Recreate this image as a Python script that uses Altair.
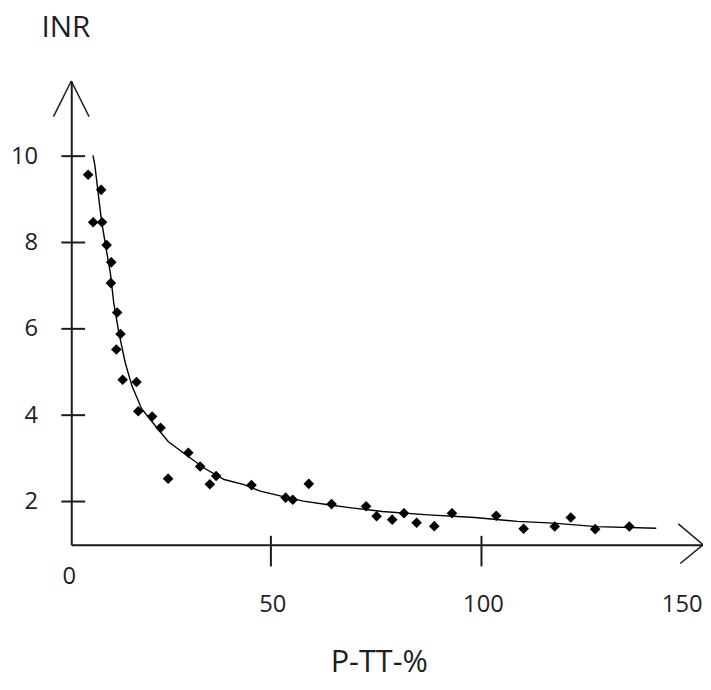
import altair as alt
import pandas as pd

# scatter data (P-TT-% vs INR)
x_pts = [6.6, 9.7, 7.8, 9.9, 11.0, 12.1, 12.0, 13.5, 14.3, 13.3, 14.8, 18.1, 18.5, 21.8,
         23.8, 25.6, 30.4, 33.2, 37.0, 35.5, 45.4, 59.0, 53.5, 55.2, 64.4, 72.6, 75.1,
         78.8, 81.6, 84.6, 88.8, 93.0, 103.5, 110.0, 117.4, 121.2, 127.0, 135.1]
y_pts = [9.57, 9.22, 8.47, 8.47, 7.94, 7.54, 7.06, 6.38, 5.88, 5.52, 4.82, 4.77, 4.09, 3.97,
         3.71, 2.53, 3.13, 2.81, 2.59, 2.40, 2.38, 2.41, 2.09, 2.04, 1.94, 1.89, 1.66,
         1.58, 1.73, 1.51, 1.43, 1.73, 1.67, 1.37, 1.42, 1.63, 1.36, 1.42]

# fitted curve
x_fit = [7.75, 8.2, 9.15, 9.8, 10.7, 11.9, 12.7, 13.9, 15.4, 17.0, 19.3, 22.5, 25.6, 30.3,
         34.2, 38.9, 43.6, 47.5, 52.2, 57.7, 63.2, 68.6, 76.5, 87.4, 98.4, 108.5, 117.1,
         127.3, 141.5]
y_fit = [10.02, 9.79, 9.01, 8.49, 7.96, 7.28, 6.59, 5.91, 5.22, 4.68, 4.15, 3.76, 3.39, 3.05,
         2.77, 2.51, 2.39, 2.24, 2.13, 2.01, 1.93, 1.86, 1.77, 1.69, 1.63, 1.54, 1.50,
         1.42, 1.38]

y_ticks = [2, 4, 6, 8, 10]
x_ticks = [50, 100]
x_labels_mid = ["50", "100"]
x_label_end = ["150"]
origin_label = ["0"]

W, H = 639, 469
FONT = "Open Sans"
INK = "#1a1a1a"
TXT = "#1e1e1e"
LABEL_SIZE = 24
TITLE_SIZE = 30

xscale = alt.Scale(domain=[2.6, 152.6], nice=False, zero=False)
yscale = alt.Scale(domain=[1.0, 11.74], nice=False, zero=False)

df_pts = pd.DataFrame({"x": x_pts, "y": y_pts})
df_fit = pd.DataFrame({"x": x_fit, "y": y_fit})

x_axis = alt.Axis(
    values=x_ticks, ticks=False, grid=False, labels=False,
    domainColor=INK, domainWidth=2,
    title="P-TT-%", titleFont=FONT, titleFontSize=TITLE_SIZE + 1, titleFontWeight="normal",
    titleColor=TXT, titleX=311, titleY=119, titleBaseline="middle", titleAlign="center",
)
y_axis = alt.Axis(
    values=y_ticks, ticks=False, grid=False,
    domainColor=INK, domainWidth=2,
    labelFont=FONT, labelFontSize=LABEL_SIZE, labelColor=TXT, labelPadding=34,
    title="INR", titleFont=FONT, titleFontSize=TITLE_SIZE, titleFontWeight="normal",
    titleColor=TXT, titleAngle=0, titleX=-6, titleY=-54, titleAlign="center",
    titleBaseline="middle",
)

points = alt.Chart(df_pts).mark_point(
    shape="diamond", filled=True, size=115, color="black", opacity=1
).encode(
    x=alt.X("x:Q", scale=xscale, axis=x_axis),
    y=alt.Y("y:Q", scale=yscale, axis=y_axis),
)

curve = alt.Chart(df_fit).mark_line(color="black", strokeWidth=1.4).encode(
    x=alt.X("x:Q", scale=xscale, axis=x_axis),
    y=alt.Y("y:Q", scale=yscale, axis=y_axis),
    order="x:Q",
)

ytick_rules = alt.Chart(pd.DataFrame({"v": y_ticks})).mark_rule(
    color=INK, strokeWidth=2
).encode(
    y=alt.Y("v:Q", scale=yscale, axis=y_axis),
    x=alt.value(-10), x2=alt.value(14),
)

xtick_rules = alt.Chart(pd.DataFrame({"v": x_ticks})).mark_rule(
    color=INK, strokeWidth=2
).encode(
    x=alt.X("v:Q", scale=xscale, axis=x_axis),
    y=alt.value(H - 9), y2=alt.value(H + 22),
)

text_style = dict(font=FONT, fontSize=LABEL_SIZE, color=TXT, baseline="middle", align="center")

zero_text = alt.Chart(pd.DataFrame({"t": origin_label, "v": [0]})).mark_text(
    dx=9, **text_style
).encode(
    x=alt.X("v:Q", scale=xscale, axis=x_axis),
    y=alt.value(H + 33),
    text="t:N",
)

mid_text = alt.Chart(pd.DataFrame({"t": x_labels_mid, "v": x_ticks})).mark_text(
    dx=2, **text_style
).encode(
    x=alt.X("v:Q", scale=xscale, axis=x_axis),
    y=alt.value(H + 61),
    text="t:N",
)

end_text = alt.Chart(pd.DataFrame({"t": x_label_end, "v": [150]})).mark_text(
    dx=-10, **text_style
).encode(
    x=alt.X("v:Q", scale=xscale, axis=x_axis),
    y=alt.value(H + 61),
    text="t:N",
)

one = pd.DataFrame({"k": [0]})
arrow_style = dict(color=INK, strokeWidth=1.5)
arrows = [
    alt.Chart(one).mark_rule(**arrow_style).encode(
        x=alt.value(0), y=alt.value(0), x2=alt.value(-18), y2=alt.value(36)),
    alt.Chart(one).mark_rule(**arrow_style).encode(
        x=alt.value(0), y=alt.value(0), x2=alt.value(18), y2=alt.value(36)),
    alt.Chart(one).mark_rule(**arrow_style).encode(
        x=alt.value(W), y=alt.value(H), x2=alt.value(W - 25), y2=alt.value(H - 21)),
    alt.Chart(one).mark_rule(**arrow_style).encode(
        x=alt.value(W), y=alt.value(H), x2=alt.value(W - 23), y2=alt.value(H + 19)),
]

chart = alt.layer(
    ytick_rules, xtick_rules, zero_text, mid_text, end_text, *arrows, curve, points
).properties(
    width=W, height=H,
    padding={"left": 64, "top": 70, "right": 0, "bottom": 135},
    autosize=alt.AutoSizeParams(type="none"),
    background="white",
).configure_view(stroke=None)

chart.save("out.html", embed_options={"renderer": "svg", "actions": False})
